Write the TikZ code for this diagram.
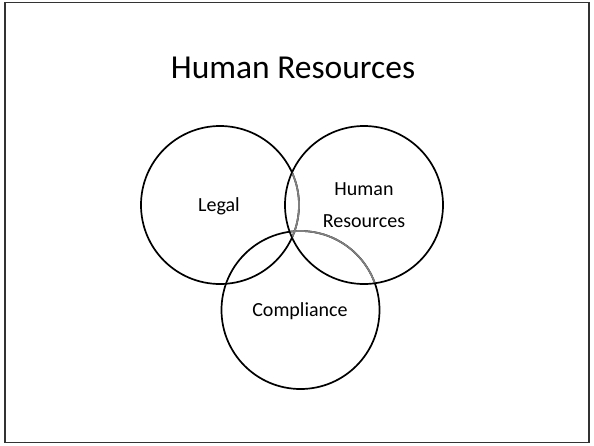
\documentclass[tikz,border=0pt]{standalone}
\usepackage{fontspec}
\setmainfont{Carlito}
\begin{document}
\begin{tikzpicture}[x=1pt,y=-1pt,
  ring/.style={draw=black,line width=1.7pt},
  faint/.style={draw=black!50,line width=1.7pt},
  lbl/.style={font=\fontsize{20}{31.6}\selectfont,inner sep=0pt,anchor=base,align=center},
  frame/.style={draw=black!80,line width=1.6pt}]
\useasboundingbox (0,0) rectangle (594,445);
\node[frame,draw,minimum width=584pt,minimum height=440pt,inner sep=0pt] (slide) at (297,222.5) {};
\node[font=\fontsize{33.5}{40}\selectfont,inner sep=0pt,anchor=base] (title) at (293,78.4) {Human Resources};
% circles
\coordinate (cL) at (220,205);
\coordinate (cH) at (364,205);
\coordinate (cC) at (300.5,310);
\draw[ring] (cL) circle[radius=79];
\draw[ring] (cH) circle[radius=79];
\draw[ring] (cC) circle[radius=79];
\begin{scope}
  \clip (cH) circle[radius=78.2];
  \draw[faint] (cL) circle[radius=79];
  \draw[faint] (cC) circle[radius=79];
\end{scope}
\node[lbl] (legal) at (219,211.7) {Legal};
\node[lbl] (hr) at (364,227.3) {Human\\Resources};
\node[lbl] (comp) at (300,316.5) {Compliance};
\end{tikzpicture}
\end{document}
